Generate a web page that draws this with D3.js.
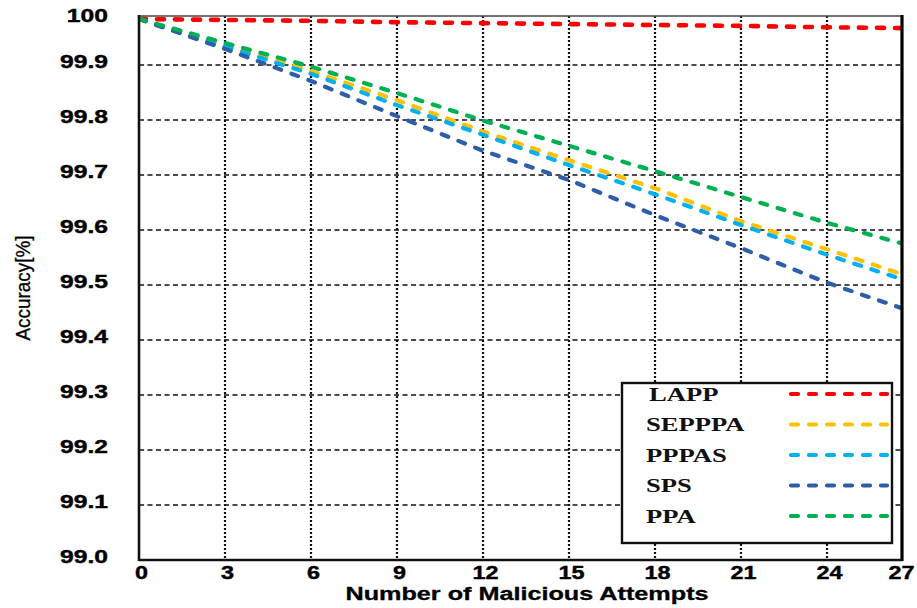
<!DOCTYPE html>
<html lang="en">
<head>
<meta charset="UTF-8">
<title>Accuracy vs Malicious Attempts</title>
<script src="https://d3js.org/d3.v7.min.js"></script>
<style>
    body{ margin:0; background:#fff; }
    svg{ display:block; }
</style>
</head>
<body>
<script>
var width = 917, height = 608;

// values
var attempts = [0, 3, 6, 9, 12, 15, 18, 21, 24, 27];
var lapp   = [100, 99.998, 99.996, 99.993, 99.991, 99.989, 99.987, 99.985, 99.982, 99.980];
var sepppa = [100, 99.943, 99.889, 99.836, 99.779, 99.727, 99.676, 99.616, 99.565, 99.513];
var pppas  = [100, 99.940, 99.884, 99.827, 99.773, 99.718, 99.665, 99.609, 99.555, 99.504];
var sps    = [100, 99.935, 99.871, 99.807, 99.744, 99.691, 99.627, 99.567, 99.504, 99.451];
var ppa    = [100, 99.948, 99.897, 99.849, 99.799, 99.753, 99.707, 99.660, 99.613, 99.570];

var seriesNames  = ["LAPP", "SEPPPA", "PPPAS", "SPS", "PPA"];
var seriesValues = [lapp, sepppa, pppas, sps, ppa];
var seriesColors = ["#ff0000", "#ffc000", "#00b0f0", "#2e5ea8", "#00b050"];

var xTicks = [0, 3, 6, 9, 12, 15, 18, 21, 24, 27];
var yTicks = [99.0, 99.1, 99.2, 99.3, 99.4, 99.5, 99.6, 99.7, 99.8, 99.9, 100];
var yTickLabels = ["99.0", "99.1", "99.2", "99.3", "99.4", "99.5", "99.6", "99.7", "99.8", "99.9", "100"];

// plot box
var plotLeft = 139, plotRight = 902, plotTop = 16, plotBottom = 560;
var STRETCH = 1.37;   // the original figure is stretched sideways

var x = d3.scaleLinear().domain([0, 27]).range([plotLeft, 913]);
// top band of the original axis is squeezed, so use a two piece scale
var y = d3.scaleLinear().domain([99, 99.9, 100]).range([plotBottom, 65, 19]);

var svg = d3.select("body").append("svg")
    .attr("width", width)
    .attr("height", height);

svg.append("rect").attr("width", width).attr("height", height).attr("fill", "#fff");

function stretch(sel, k) {
    sel.each(function() {
        var w = this.getComputedTextLength();
        d3.select(this).attr("textLength", w * k).attr("lengthAdjust", "spacingAndGlyphs");
    });
}

// grid
var grid = svg.append("g");
grid.selectAll("line.h")
    .data(yTicks.filter(function(d) { return d > 99 && d < 100; }))
    .enter().append("line")
    .attr("x1", plotLeft).attr("x2", plotRight)
    .attr("y1", function(d) { return y(d); })
    .attr("y2", function(d) { return y(d); })
    .attr("stroke", "#111")
    .attr("stroke-width", 1.6)
    .attr("stroke-dasharray", "5,3.5");

grid.selectAll("line.v")
    .data(xTicks.filter(function(d) { return d > 0 && x(d) < plotRight; }))
    .enter().append("line")
    .attr("y1", plotTop).attr("y2", plotBottom)
    .attr("x1", function(d) { return x(d); })
    .attr("x2", function(d) { return x(d); })
    .attr("stroke", "#111")
    .attr("stroke-width", 2.2)
    .attr("stroke-dasharray", "2,2");

// series
svg.append("clipPath").attr("id", "plotClip")
    .append("rect")
    .attr("x", plotLeft).attr("y", plotTop)
    .attr("width", plotRight - plotLeft).attr("height", plotBottom - plotTop);

var line = d3.line()
    .x(function(d, i) { return x(attempts[i]); })
    .y(function(d) { return y(d); });

svg.append("g").attr("clip-path", "url(#plotClip)")
    .selectAll("path")
    .data(seriesValues)
    .enter().append("path")
    .attr("d", line)
    .attr("fill", "none")
    .attr("stroke", function(d, i) { return seriesColors[i]; })
    .attr("stroke-width", function(d, i) { return i == 0 ? 4.6 : 4.2; })
    .attr("stroke-linecap", "round")
    .attr("stroke-dasharray", "7,11");

// frame
svg.append("line").attr("x1", plotLeft).attr("x2", plotRight).attr("y1", plotTop).attr("y2", plotTop)
    .attr("stroke", "#444").attr("stroke-width", 1.6);
svg.append("line").attr("x1", plotRight).attr("x2", plotRight).attr("y1", plotTop - 1).attr("y2", plotBottom + 1)
    .attr("stroke", "#000").attr("stroke-width", 3.2);
svg.append("line").attr("x1", plotLeft).attr("x2", plotLeft).attr("y1", plotTop - 1).attr("y2", plotBottom + 1)
    .attr("stroke", "#111").attr("stroke-width", 2.6);
svg.append("line").attr("x1", plotLeft).attr("x2", plotRight).attr("y1", plotBottom).attr("y2", plotBottom)
    .attr("stroke", "#111").attr("stroke-width", 2.6);

// axes
var yAxis = svg.append("g")
    .attr("transform", "translate(" + plotLeft + ",0)")
    .call(d3.axisLeft(y).tickValues(yTicks)
        .tickFormat(function(d, i) { return yTickLabels[i]; })
        .tickSize(0).tickPadding(31));
yAxis.select(".domain").remove();
yAxis.selectAll("text")
    .attr("dy", "0.14em")
    .style("font-family", "Liberation Sans, Arial, sans-serif")
    .style("font-size", "18px")
    .style("font-weight", "bold")
    .attr("fill", "#000")
    .attr("stroke", "#000")
    .attr("stroke-width", 0.4)
    .call(stretch, STRETCH);

var xAxis = svg.append("g")
    .attr("transform", "translate(0," + plotBottom + ")")
    .call(d3.axisBottom(x).tickValues(xTicks).tickSize(0).tickPadding(6));
xAxis.select(".domain").remove();
xAxis.selectAll("text")
    .style("font-family", "Liberation Sans, Arial, sans-serif")
    .style("font-size", "18px")
    .style("font-weight", "bold")
    .attr("fill", "#000")
    .attr("stroke", "#000")
    .attr("stroke-width", 0.4)
    .attr("x", function(d) { return x(d) > plotRight ? -12 : 2; })
    .call(stretch, 1.3);

svg.append("text")
    .attr("x", 527).attr("y", 600)
    .attr("text-anchor", "middle")
    .style("font-family", "Liberation Sans, Arial, sans-serif")
    .style("font-size", "18px")
    .style("font-weight", "bold")
    .attr("fill", "#000")
    .attr("stroke", "#000")
    .attr("stroke-width", 0.3)
    .text("Number of Malicious Attempts")
    .call(stretch, 1.4);

svg.append("text")
    .attr("transform", "translate(30,288) rotate(-90)")
    .attr("text-anchor", "middle")
    .style("font-family", "Liberation Sans, Arial, sans-serif")
    .style("font-size", "20px")
    .attr("fill", "#000")
    .attr("stroke", "#000")
    .attr("stroke-width", 0.3)
    .text("Accuracy[%]")
    .attr("textLength", 105)
    .attr("lengthAdjust", "spacingAndGlyphs");

// legend
var legend = svg.append("g");
legend.append("rect")
    .attr("x", 622).attr("y", 383)
    .attr("width", 270).attr("height", 160)
    .attr("fill", "#fff")
    .attr("stroke", "#111")
    .attr("stroke-width", 2.4);

var items = legend.selectAll("g.item")
    .data(seriesNames)
    .enter().append("g")
    .attr("transform", function(d, i) { return "translate(0," + (394 + i * 30.5) + ")"; });

items.append("text")
    .attr("x", function(d, i) { return i == 0 ? 649 : 646; })
    .attr("dy", "0.35em")
    .style("font-family", "Liberation Serif, Times New Roman, serif")
    .style("font-size", "19px")
    .style("font-weight", "bold")
    .attr("fill", "#111")
    .text(function(d) { return d; })
    .call(stretch, 1.4);

items.append("line")
    .attr("x1", 791).attr("x2", 887)
    .attr("stroke", function(d, i) { return seriesColors[i]; })
    .attr("stroke-width", 4.2)
    .attr("stroke-linecap", "round")
    .attr("stroke-dasharray", "7,11");
</script>
</body>
</html>
